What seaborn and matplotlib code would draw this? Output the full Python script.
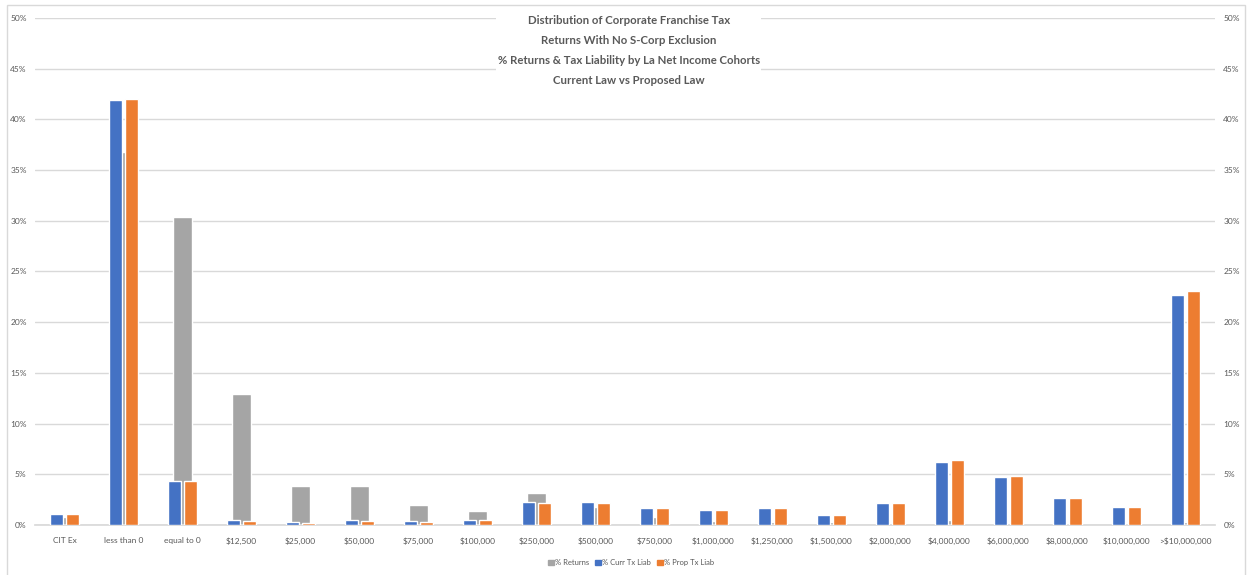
import matplotlib
matplotlib.use("Agg")
import matplotlib.pyplot as plt
import matplotlib.patches as mpatches
from matplotlib.ticker import PercentFormatter
import seaborn as sns
import pandas as pd

# cohorts on the x axis
cohorts = ["CIT Ex", "less than 0", "equal to 0", "$12,500", "$25,000", "$50,000",
           "$75,000", "$100,000", "$250,000", "$500,000", "$750,000", "$1,000,000",
           "$1,250,000", "$1,500,000", "$2,000,000", "$4,000,000", "$6,000,000",
           "$8,000,000", "$10,000,000", ">$10,000,000"]

# values (fractions)
pct_returns = [0.008, 0.368, 0.304, 0.129, 0.038, 0.038, 0.020, 0.0135, 0.032, 0.018,
               0.0075, 0.004, 0.003, 0.0025, 0.002, 0.0045, 0.0015, 0.001, 0.0005, 0.0025]
pct_curr_liab = [0.011, 0.419, 0.0435, 0.005, 0.003, 0.005, 0.004, 0.005, 0.0227, 0.0225,
                 0.0167, 0.0145, 0.0167, 0.0098, 0.0215, 0.0625, 0.0473, 0.0263, 0.0177, 0.227]
pct_prop_liab = [0.011, 0.420, 0.0435, 0.004, 0.0015, 0.004, 0.0025, 0.005, 0.0215, 0.0215,
                 0.0167, 0.0145, 0.0167, 0.0098, 0.0215, 0.0638, 0.0483, 0.0263, 0.0177, 0.231]

series_names = ["% Returns", "% Curr Tx Liab", "% Prop Tx Liab"]
grey, blue, orange = "#A5A5A5", "#4472C4", "#ED7D31"
text_col = "#595959"

df_ret = pd.DataFrame({"cohort": cohorts, "value": pct_returns})
df_liab = pd.DataFrame({
    "cohort": cohorts * 2,
    "value": pct_curr_liab + pct_prop_liab,
    "series": [series_names[1]] * len(cohorts) + [series_names[2]] * len(cohorts),
})

sns.set_theme(style="white")
plt.rcParams["font.family"] = ["Lato", "DejaVu Sans"]

fig = plt.figure(figsize=(12.5, 5.75), dpi=100)
ax = fig.add_axes([0.028, 0.087, 0.944, 0.882])

sns.barplot(data=df_ret, x="cohort", y="value", color=grey, width=0.32,
            ax=ax, zorder=2, saturation=1)
sns.barplot(data=df_liab, x="cohort", y="value", hue="series",
            palette=[blue, orange], width=0.568, gap=0.225, ax=ax,
            legend=False, zorder=3, saturation=1)

ax.set_ylim(0, 0.5)
ax.set_xlim(-0.5, len(cohorts) - 0.5)
ax.set_yticks([i * 0.05 for i in range(11)])
ax.yaxis.set_major_formatter(PercentFormatter(1.0, decimals=0))
ax.grid(axis="y", color="#D9D9D9", linewidth=1, zorder=0)
ax.set_axisbelow(True)
ax.set_xlabel("")
ax.set_ylabel("")
for s in ["top", "right", "left"]:
    ax.spines[s].set_visible(False)
ax.spines["bottom"].set_color("#D9D9D9")
ax.tick_params(axis="both", length=0, labelsize=6, colors=text_col)
ax.tick_params(axis="x", pad=9)
ax.tick_params(axis="y", pad=6)

ax2 = ax.twinx()
ax2.set_ylim(ax.get_ylim())
ax2.set_yticks(ax.get_yticks())
ax2.yaxis.set_major_formatter(PercentFormatter(1.0, decimals=0))
ax2.tick_params(axis="y", length=0, labelsize=6, colors=text_col, pad=6)
for s in ax2.spines.values():
    s.set_visible(False)
ax2.grid(False)

title = ("Distribution of Corporate Franchise Tax\n"
         "Returns With No S-Corp Exclusion\n"
         "% Returns & Tax Liability by La Net Income Cohorts\n"
         "Current Law vs Proposed Law")
fig.text(0.503, 0.974, title, ha="center", va="top", fontsize=8.2,
         fontweight="bold", color=text_col, linespacing=2.0,
         bbox=dict(facecolor="white", edgecolor="none", pad=1), zorder=10)

handles = [mpatches.Patch(color=c, label=n) for c, n in zip([grey, blue, orange], series_names)]
fig.legend(handles=handles, loc="center", bbox_to_anchor=(0.505, 0.022), ncol=3,
           frameon=False, fontsize=5.5, handlelength=0.7, handleheight=0.7,
           handletextpad=0.2, columnspacing=0.8, labelcolor=text_col)

fig.patches.append(mpatches.Rectangle((0.0056, -0.01), 0.99, 1.001, transform=fig.transFigure,
                                      fill=False, edgecolor="#D9D9D9", linewidth=1))

fig.savefig("out.png", dpi=100, facecolor="white")
